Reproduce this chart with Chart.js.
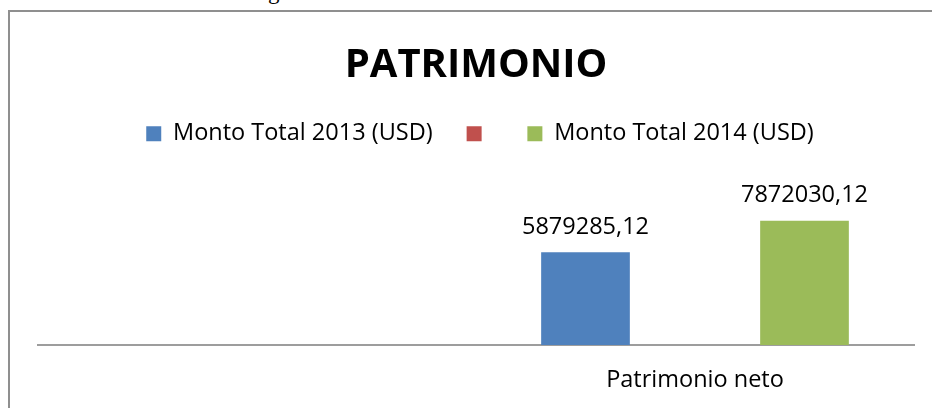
<!DOCTYPE html>
<html>
<head>
<meta charset="utf-8">
<script src="https://cdn.jsdelivr.net/npm/chart.js@4.4.1/dist/chart.umd.min.js"></script>
<style>
  html, body { margin: 0; padding: 0; width: 932px; height: 408px; overflow: hidden; background: #ffffff; }
  #frame { position: absolute; left: 8px; top: 10px; width: 1000px; height: 500px;
           border-left: 2px solid #8f8f8f; border-top: 2px solid #8f8f8f; box-sizing: border-box; }
  #wrap { position: absolute; left: 0; top: 0; width: 952px; height: 420px; }
  #doc { position: absolute; left: 268px; top: -19px; font-family: "Liberation Serif", serif; font-size: 23px; line-height: 22px; color: #000; }
</style>
</head>
<body>
<div id="doc">g</div>
<div id="frame"></div>
<div id="wrap"><canvas id="c" width="952" height="420"></canvas></div>
<script>
const titleText = 'PATRIMONIO';
const categories = ['', 'Patrimonio neto'];
const seriesNames = ['Monto Total 2013 (USD)', '', 'Monto Total 2014 (USD)'];
const values2013 = [null, 5879285.12];
const valuesBlank = [null, null];
const values2014 = [null, 7872030.12];
const seriesColors = ['#4F81BD', '#C0504D', '#9BBB59'];

const FONT = '"Open Sans", sans-serif';
const FS = 23.5;

function fmt(v) { return v.toFixed(2).replace('.', ','); }

const dataLabels = {
  id: 'dataLabels',
  afterDatasetsDraw(chart) {
    const ctx = chart.ctx;
    ctx.save();
    ctx.font = FS + 'px ' + FONT;
    ctx.fillStyle = '#000000';
    ctx.textAlign = 'center';
    ctx.textBaseline = 'alphabetic';
    chart.data.datasets.forEach((ds, i) => {
      const meta = chart.getDatasetMeta(i);
      meta.data.forEach((bar, j) => {
        const v = ds.data[j];
        if (v === null || v === undefined) return;
        ctx.fillText(fmt(v), bar.x, bar.y - 18.5);
      });
    });
    ctx.restore();
  }
};

const legendShift = {
  id: 'legendShift',
  afterLayout(chart) {
    if (chart.legend) { chart.legend.left += 4; chart.legend.right += 4; }
  }
};

const datasetsSrc = [values2013, valuesBlank, values2014];

new Chart(document.getElementById('c'), {
  type: 'bar',
  data: {
    labels: categories,
    datasets: datasetsSrc.map((d, i) => ({
      label: seriesNames[i],
      data: d,
      backgroundColor: seriesColors[i],
      borderWidth: 0,
      categoryPercentage: 0.75,
      barPercentage: 0.81
    }))
  },
  options: {
    responsive: false,
    animation: false,
    events: [],
    layout: { padding: { left: 38, right: 38, top: 44, bottom: 4.8 } },
    plugins: {
      title: {
        display: true,
        text: titleText,
        color: '#000000',
        font: { family: FONT, size: 40, weight: 'bold', lineHeight: 1.1 },
        padding: { top: 0, bottom: 0 }
      },
      legend: {
        display: true,
        position: 'top',
        labels: {
          color: '#000000',
          font: { family: FONT, size: FS },
          boxWidth: 15,
          boxHeight: 15,
          padding: 34
        }
      },
      tooltip: { enabled: false }
    },
    scales: {
      x: {
        grid: { display: false, drawTicks: false },
        border: { display: true, color: '#9d9d9d', width: 2 },
        ticks: { color: '#000000', font: { family: FONT, size: FS }, padding: 21, maxRotation: 0 }
      },
      y: {
        display: false,
        min: 0,
        max: 12000000
      }
    }
  },
  plugins: [dataLabels, legendShift]
});
</script>
</body>
</html>
